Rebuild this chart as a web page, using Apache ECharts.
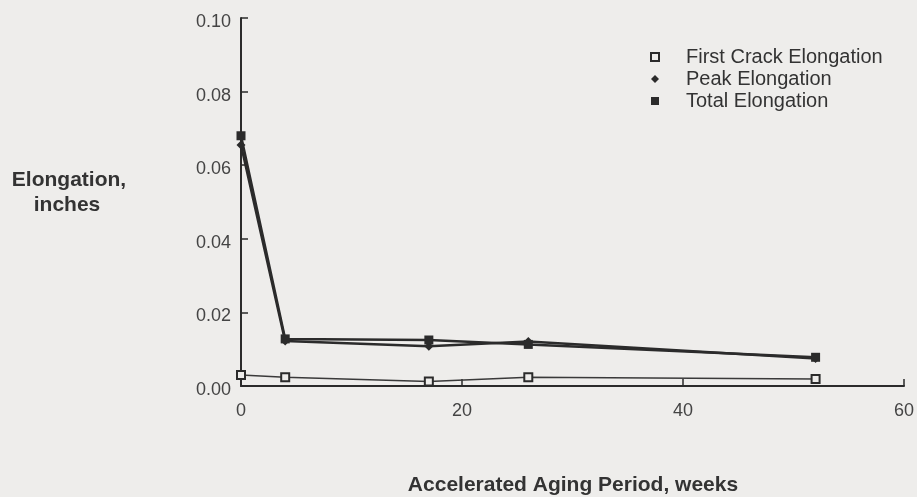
<!DOCTYPE html>
<html>
<head>
<meta charset="utf-8">
<script src="https://cdn.jsdelivr.net/npm/echarts@6/dist/echarts.min.js"></script>
<style>
  html, body { margin: 0; padding: 0; background: #eeedeb; }
  #chart { width: 917px; height: 497px; }
</style>
</head>
<body>
<div id="chart"></div>
<script>
// weeks of accelerated aging
const weeks = [0, 4, 17, 26, 52]
// elongation, inches
const firstCrack = [0.003, 0.0024, 0.0012, 0.0024, 0.0019]
const peak = [0.0655, 0.0122, 0.0108, 0.0121, 0.0075]
const total = [0.068, 0.0128, 0.0125, 0.0113, 0.0078]
const seriesNames = ['First Crack Elongation', 'Peak Elongation', 'Total Elongation']

const bg = '#eeedeb'
const ink = '#2b2b2b'
const font = 'Liberation Sans, Arial, sans-serif'

function pairs (vals) {
  return weeks.map((w, i) => [w, vals[i]])
}

const chart = echarts.init(document.getElementById('chart'))
const option = {
  backgroundColor: bg,
  animation: false,
  textStyle: { fontFamily: font },
  grid: { left: 241, top: 18, right: 13, bottom: 111 },
  legend: {
    orient: 'vertical',
    left: 645,
    top: 42,
    itemGap: 2,
    itemWidth: 8,
    itemHeight: 8,
    textStyle: { fontSize: 20, lineHeight: 20, color: '#333', padding: [0, 0, 0, 22] },
    data: [
      { name: seriesNames[0], icon: 'rect' },
      { name: seriesNames[1], icon: 'diamond' },
      { name: seriesNames[2], icon: 'rect' }
    ]
  },
  xAxis: {
    type: 'value',
    min: 0,
    max: 60,
    interval: 20,
    splitLine: { show: false },
    axisLine: { lineStyle: { color: ink, width: 2 } },
    axisTick: { inside: true, length: 7, lineStyle: { color: ink, width: 1.5 } },
    axisLabel: { margin: 16, fontSize: 18, color: '#444' }
  },
  yAxis: {
    type: 'value',
    min: 0,
    max: 0.1,
    interval: 0.02,
    splitLine: { show: false },
    axisLine: { show: true, lineStyle: { color: ink, width: 2 } },
    axisTick: { show: true, inside: true, length: 7, lineStyle: { color: ink, width: 1.5 } },
    axisLabel: {
      margin: 10,
      fontSize: 18,
      color: '#444',
      verticalAlign: 'top',
      lineHeight: 8,
      formatter: v => v.toFixed(2)
    }
  },
  graphic: [
    {
      type: 'text',
      x: 69,
      y: 180,
      style: {
        text: 'Elongation,',
        textAlign: 'center',
        textVerticalAlign: 'middle',
        fontSize: 21,
        fontWeight: 'bold',
        fill: '#333',
        fontFamily: font
      }
    },
    {
      type: 'text',
      x: 67,
      y: 205,
      style: {
        text: 'inches',
        textAlign: 'center',
        textVerticalAlign: 'middle',
        fontSize: 21,
        fontWeight: 'bold',
        fill: '#333',
        fontFamily: font
      }
    },
    {
      type: 'text',
      x: 573,
      y: 485,
      style: {
        text: 'Accelerated Aging Period, weeks',
        textAlign: 'center',
        textVerticalAlign: 'middle',
        fontSize: 21,
        fontWeight: 'bold',
        fill: '#333',
        fontFamily: font
      }
    }
  ],
  series: [
    {
      name: seriesNames[0],
      type: 'line',
      data: pairs(firstCrack),
      symbol: 'rect',
      symbolSize: 8,
      lineStyle: { color: '#3a3a3a', width: 1.5 },
      itemStyle: { color: bg, borderColor: ink, borderWidth: 2 }
    },
    {
      name: seriesNames[1],
      type: 'line',
      data: pairs(peak),
      symbol: 'diamond',
      symbolSize: 9,
      lineStyle: { color: ink, width: 2.5 },
      itemStyle: { color: ink, borderWidth: 0 }
    },
    {
      name: seriesNames[2],
      type: 'line',
      data: pairs(total),
      symbol: 'rect',
      symbolSize: 9,
      lineStyle: { color: ink, width: 2.5 },
      itemStyle: { color: ink, borderWidth: 0 }
    }
  ]
}
chart.setOption(option)
</script>
</body>
</html>
